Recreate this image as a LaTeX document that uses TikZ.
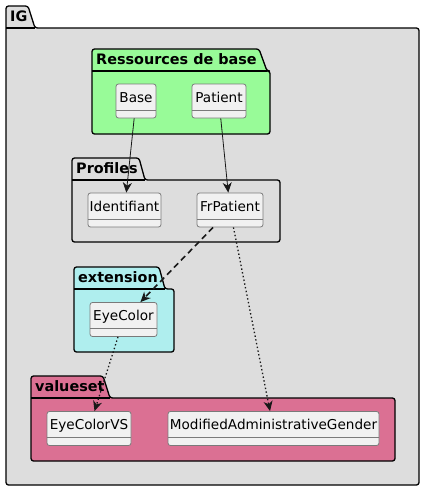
\documentclass[tikz,border=0pt]{standalone}
\usepackage{fontspec}
\setmainfont{DejaVu Sans}
\usetikzlibrary{arrows.meta}
\definecolor{igfill}{HTML}{DDDDDD}
\definecolor{resfill}{HTML}{98FB98}
\definecolor{extfill}{HTML}{AFEEEE}
\definecolor{vsfill}{HTML}{DB7093}
\definecolor{clsfill}{HTML}{F1F1F1}
\definecolor{clsline}{HTML}{7A7A7A}
\definecolor{edgeline}{HTML}{181818}
\tikzset{
  pkgshape/.style={draw=black, line width=1.3pt, rounded corners=2.5pt, line join=round},
  pkgtitle/.style={anchor=base west, inner sep=0pt, font=\bfseries\fontsize{14.4}{16}\selectfont},
  cls/.style={draw=clsline, line width=0.8pt, fill=clsfill, rounded corners=2.5pt,
    inner xsep=0pt, inner ysep=0pt, text height=18pt, text depth=16pt,
    font=\fontsize{13.6}{16}\selectfont,
    path picture={\draw[draw=clsline, line width=0.8pt]
      ([yshift=8pt]path picture bounding box.south west) --
      ([yshift=8pt]path picture bounding box.south east);}},
  dep/.style={draw=edgeline, line width=0.8pt, -{Stealth[length=10pt,width=9pt,inset=3pt]}},
  depdash/.style={dep, line width=1.6pt, dash pattern=on 6pt off 4pt},
  depdot/.style={dep, line width=1.3pt, dash pattern=on 1.4pt off 2.4pt},
}
% #1 x1, #2 tab top, #3 tab top right, #4 slant end x, #5 body top, #6 x2, #7 y2, #8 fill
\newcommand\umlpkg[8]{%
  \filldraw[pkgshape, fill=#8] (#1,#7) -- (#1,#2) -- (#3,#2) -- (#4,#5) -- (#6,#5) -- (#6,#7) -- cycle;
  \draw[pkgshape] (#1,#5) -- (#4,#5);
}
\begin{document}
\begin{tikzpicture}[x=1pt, y=-1pt]
  \useasboundingbox (0,0) rectangle (425,491);
  \fill[white] (0,0) rectangle (425,491);
  % packages
  \umlpkg{6}{6}{28}{35}{28}{419}{485}{igfill}
  \node[pkgtitle] (tig) at (10,21) {IG};
  \umlpkg{92}{49}{259}{267}{71}{270}{134}{resfill}
  \node[pkgtitle] (tres) at (96,64) {Ressources de base};
  \umlpkg{72}{158}{139}{145}{180}{280}{242}{igfill}
  \node[pkgtitle] (tprof) at (76,173) {Profiles};
  \umlpkg{74}{267}{159}{165}{289}{174}{352}{extfill}
  \node[pkgtitle] (text) at (78,282) {extension};
  \umlpkg{31}{376}{103}{110}{398}{395}{461}{vsfill}
  \node[pkgtitle] (tvs) at (35,391) {valueset};
  % classes
  \node[cls, minimum width=40pt] (base) at (136,101) {Base};
  \node[cls, minimum width=54pt] (patient) at (219,101) {Patient};
  \node[cls, minimum width=73pt] (ident) at (124.5,210) {Identifiant};
  \node[cls, minimum width=66pt] (frp) at (230,210) {FrPatient};
  \node[cls, minimum width=67pt] (eye) at (123.5,319.5) {EyeColor};
  \node[cls, minimum width=84pt] (eyevs) at (89,428.5) {EyeColorVS};
  \node[cls, minimum width=211pt] (mag) at (273.5,428.5) {ModifiedAdministrativeGender};
  % connectors
  \draw[dep] (base) -- (ident);
  \draw[dep] (patient) -- (frp);
  \draw[depdash] (frp) -- (eye);
  \draw[depdot] (frp) -- (mag);
  \draw[depdot] (eye) -- (eyevs);
\end{tikzpicture}
\end{document}
